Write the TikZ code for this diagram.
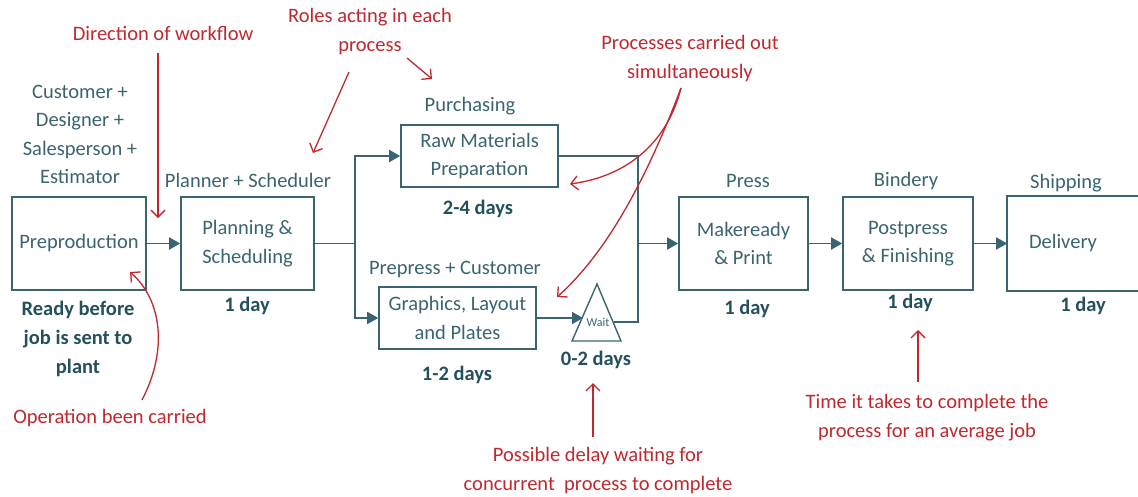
\documentclass[tikz,border=0pt]{standalone}
\usepackage{fontspec}
\setmainfont{Carlito}
\usetikzlibrary{arrows.meta}
\definecolor{flowc}{HTML}{3A6470}
\definecolor{dayc}{HTML}{24505C}
\definecolor{annc}{HTML}{C0282E}
\begin{document}
\begin{tikzpicture}[x=1pt,y=-1pt,
  txt/.style={font={\fontsize{20.5}{28.5}\selectfont}, align=center, inner sep=0pt},
  box/.style={txt, draw=flowc, line width=1.6pt, text=flowc},
  role/.style={txt, text=flowc},
  days/.style={txt, text=dayc, font={\fontsize{20.5}{29}\selectfont\bfseries}},
  ann/.style={txt, text=annc},
  line/.style={draw=flowc, line width=1.8pt},
  flow/.style={line, -{Triangle[length=11pt,width=12pt]}},
  annarrow/.style={draw=annc, line width=1.3pt, -{Straight Barb[length=7pt,width=14pt]}}]
\useasboundingbox (0,0) rectangle (1138,496);
\clip (0,0) rectangle (1138,496);
% boxes
\node[box, minimum width=134pt, minimum height=93pt] (pre) at (79,243.5) {Preproduction};
\node[box, minimum width=133pt, minimum height=93pt] (plan) at (247.5,243.5) {Planning \&\\Scheduling};
\node[box, minimum width=157pt, minimum height=62pt] (raw) at (479.5,156) {Raw Materials\\Preparation};
\node[box, minimum width=157pt, minimum height=62pt] (gfx) at (457.5,318) {Graphics, Layout\\and Plates};
\node[box, minimum width=129pt, minimum height=93pt] (make) at (743.5,243.5) {Makeready\\\& Print};
\node[box, minimum width=130pt, minimum height=93pt] (post) at (908,243.5) {Postpress\\\& Finishing};
\node[box, draw=none, minimum width=110pt, minimum height=93pt] (del) at (1063,243.5) {Delivery};
\draw[line, line width=1.6pt] ([xshift=150pt]del.north west) -- (del.north west) -- (del.south west) -- ++(150,0);
% wait triangle
\coordinate (wapex) at (597,284);
\coordinate (wbl) at (572,341);
\coordinate (wbr) at (621,341);
\draw[line, line width=1.4pt] (wapex) -- (wbl) -- (wbr) -- cycle;
\node[role, font={\fontsize{12}{14}\selectfont}] (wait) at (598,322) {Wait};
\coordinate (win) at (583,318);
\coordinate (wout) at (614,322);
% roles
\node[role] (rpre) at (80,134.5) {Customer +\\Designer +\\Salesperson +\\Estimator};
\node[role] (rplan) at (248,180) {Planner + Scheduler};
\node[role] (rraw) at (470,106) {Purchasing};
\node[role] (rgfx) at (455,269) {Prepress + Customer};
\node[role] (rmake) at (748,181) {Press};
\node[role] (rpost) at (906,181) {Bindery};
\node[role] (rdel) at (1066,183) {Shipping};
% days
\node[days] (dpre) at (78,339) {Ready before\\job is sent to\\plant};
\node[days] (dplan) at (247,306) {1 day};
\node[days] (draw) at (478,209) {2-4 days};
\node[days] (dgfx) at (457,375) {1-2 days};
\node[days] (dwait) at (596,360) {0-2 days};
\node[days] (dmake) at (747,309) {1 day};
\node[days] (dpost) at (910,303) {1 day};
\node[days] (ddel) at (1083,306) {1 day};
% connectors
\coordinate (split) at (355,243.5);
\coordinate (join) at (638,243.5);
\draw[flow] (pre.east) -- (plan.west);
\draw[line] (plan.east) -- (split);
\draw[flow] (split) |- (raw.west);
\draw[flow] (split) |- (gfx.west);
\draw[flow] (gfx.east) -- (win);
\draw[line] (raw.east) -| (join);
\draw[line] (wout) -| (join);
\draw[flow] (join) -- (make.west);
\draw[flow] (make.east) -- (post.west);
\draw[flow] (post.east) -- (del.west);
% annotations
\node[ann] (dir) at (163,33) {Direction of workflow};
\coordinate (dirtip) at (158,218);
\draw[annarrow] ([xshift=-5pt,yshift=-13pt]dir.south) -- (dirtip);
\node[ann] (roles) at (370,31.5) {Roles acting in each\\process};
\coordinate (rtip1) at (313,153);
\coordinate (rtip2) at (432,79);
\draw[annarrow] (349,72) -- (rtip1);
\draw[annarrow] (407,58) -- (rtip2);
\node[ann] (procs) at (690,58.5) {Processes carried out\\simultaneously};
\coordinate (ptip1) at (570,184);
\coordinate (ptip2) at (557,297);
\draw[annarrow] (681,88) .. controls (668,140) and (630,176) .. (ptip1);
\draw[annarrow] (681,88) .. controls (650,170) and (610,250) .. (ptip2);
\node[ann] (oper) at (110,418) {Operation been carried};
\coordinate (otip) at (130,272);
\draw[annarrow] (142,400) .. controls (168,350) and (162,300) .. (otip);
\node[ann] (delay) at (598,470.5) {Possible delay waiting for\\concurrent\ \ process to complete};
\coordinate (dtip) at (593,383);
\draw[annarrow] (593,437) -- (dtip);
\node[ann] (time) at (927,417.5) {Time it takes to complete the\\process for an average job};
\coordinate (ttip) at (918,330);
\draw[annarrow] (918,382) -- (ttip);
\end{tikzpicture}
\end{document}
